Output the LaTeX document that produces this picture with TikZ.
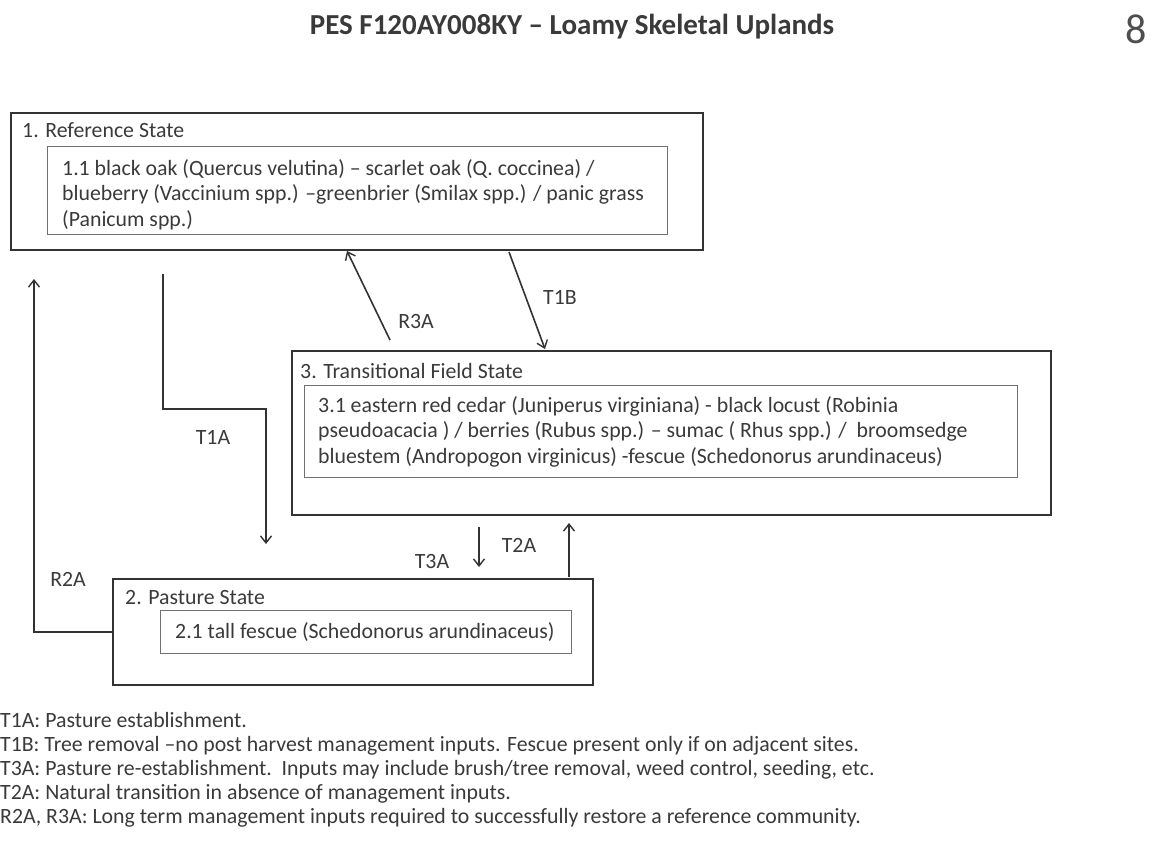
\documentclass[tikz,border=0pt]{standalone}
\usepackage{fontspec}
\setmainfont{Carlito}
\usetikzlibrary{arrows.meta}
\definecolor{lc}{HTML}{333333}
\definecolor{ic}{HTML}{707070}
\definecolor{tc}{HTML}{3A3A3A}
\begin{document}
\begin{tikzpicture}[x=1pt,y=-1pt,
  outer/.style={draw=lc, line width=2pt, anchor=north west, inner sep=0pt},
  inner/.style={draw=ic, line width=1.2pt, anchor=north west, inner sep=0pt},
  txt/.style={text=tc, inner sep=0pt, font=\fontsize{21.8}{25.5}\selectfont, align=left, anchor=base west},
  lbl/.style={text=tc, inner sep=0pt, font=\fontsize{21.8}{24}\selectfont},
  note/.style={text=tc, inner sep=0pt, font=\fontsize{21.8}{24}\selectfont, anchor=base west},
  conn/.style={draw=lc, line width=1.6pt, -{Straight Barb[length=7pt,width=11pt,line width=1.4pt]}},
  plain/.style={draw=lc, line width=1.6pt}]
\useasboundingbox (0,0) rectangle (1156,841);

% title
\node[text=tc, inner sep=0pt, font=\fontsize{29}{32}\bfseries\selectfont] (title) at (572,27) {PES F120AY008KY – Loamy Skeletal Uplands};
\node[text=tc!90, inner sep=0pt, font=\fontsize{42}{44}\selectfont] (page) at (1136,29) {8};

% state 1
\node[outer, minimum width=692pt, minimum height=137pt] (s1) at (10,112) {};
\node[txt] (s1t) at (22,137) {1. Reference State};
\node[inner, minimum width=620pt, minimum height=88pt] (s1i) at (47,146) {};
\node[txt] (s1it) at (62,226) {1.1 black oak (Quercus velutina) – scarlet oak (Q. coccinea) /\\blueberry (Vaccinium spp.) –greenbrier (Smilax spp.) / panic grass\\(Panicum spp.)};

% state 3
\node[outer, minimum width=759pt, minimum height=164pt] (s3) at (291,350) {};
\node[txt] (s3t) at (300,378) {3. Transitional Field State};
\node[inner, minimum width=713pt, minimum height=92pt] (s3i) at (304,385) {};
\node[txt] (s3it) at (318,463) {3.1 eastern red cedar (Juniperus virginiana) - black locust (Robinia\\pseudoacacia ) / berries (Rubus spp.) – sumac ( Rhus spp.) /\ \ broomsedge\\bluestem (Andropogon virginicus) -fescue (Schedonorus arundinaceus)};

% state 2
\node[outer, minimum width=480pt, minimum height=106pt] (s2) at (112,578) {};
\node[txt] (s2t) at (125,604) {2. Pasture State};
\node[inner, minimum width=411pt, minimum height=43pt] (s2i) at (160,610) {};
\node[txt] (s2it) at (175,638) {2.1 tall fescue (Schedonorus arundinaceus)};

% connectors
\coordinate (t1a0) at (163,274);
\coordinate (t1a1) at (266,544);
\draw[conn] (t1a0) |- (214,409) -| (t1a1);
\node[lbl] (t1al) at (213,437) {T1A};

\coordinate (r2a1) at (34,279);
\draw[conn] (s2.west) -| (r2a1);
\node[lbl] (r2al) at (68,579) {R2A};

\coordinate (r3a0) at (390,340);
\coordinate (r3a1) at (347,251);
\draw[conn] (r3a0) -- (r3a1);
\node[lbl] (r3al) at (416,321) {R3A};

\coordinate (t1b0) at (509,252);
\coordinate (t1b1) at (545,349);
\draw[conn] (t1b0) -- (t1b1);
\node[lbl] (t1bl) at (560,297) {T1B};

\coordinate (t3a0) at (479,527);
\coordinate (t3a1) at (479,567);
\draw[conn] (t3a0) -- (t3a1);
\node[lbl] (t3al) at (432,561) {T3A};

\coordinate (t2a0) at (569,577);
\coordinate (t2a1) at (569,523);
\draw[conn] (t2a0) -- (t2a1);
\node[lbl] (t2al) at (519,545) {T2A};

% notes
\node[note] (n1) at (0,727) {T1A: Pasture establishment.};
\node[note] (n2) at (0,751) {T1B: Tree removal –no post harvest management inputs. Fescue present only if on adjacent sites.};
\node[note] (n3) at (0,775) {T3A: Pasture re-establishment.\ \ Inputs may include brush/tree removal, weed control, seeding, etc.};
\node[note] (n4) at (0,799) {T2A: Natural transition in absence of management inputs.};
\node[note] (n5) at (0,823) {R2A, R3A: Long term management inputs required to successfully restore a reference community.};
\end{tikzpicture}
\end{document}
